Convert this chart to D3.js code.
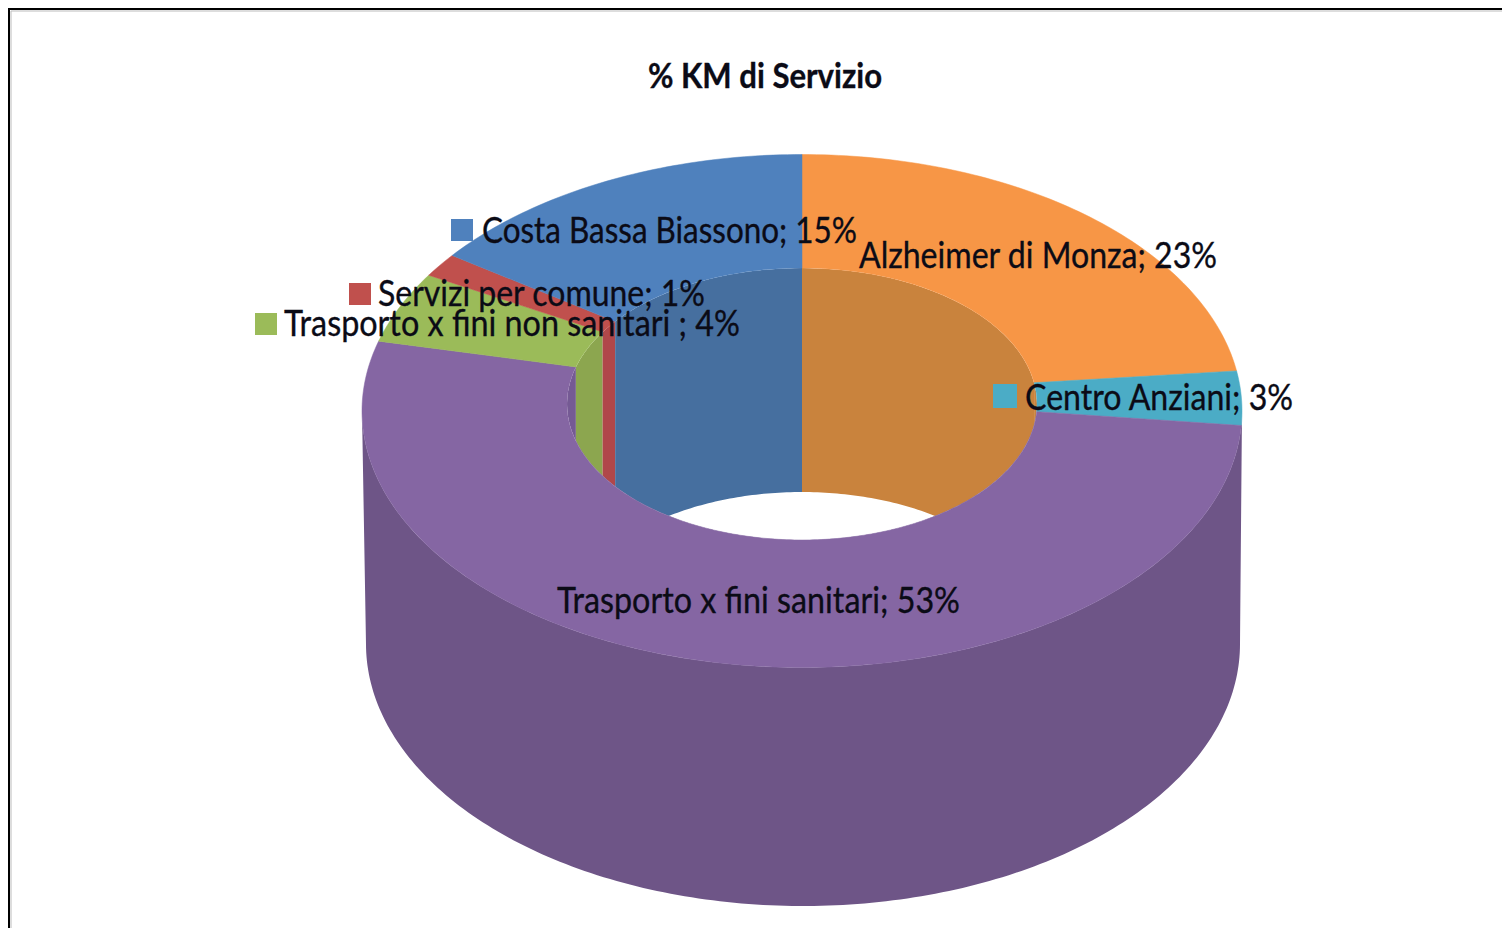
<!DOCTYPE html>
<html>
<head>
<meta charset="utf-8">
<script src="https://cdn.jsdelivr.net/npm/d3@7"></script>
<style>
    html, body { margin: 0; padding: 0; background: #fff; overflow: hidden; }
    text { font-family: Lato, "Noto Sans", sans-serif; fill: #0b0b16; stroke: #0b0b16; stroke-width: 0.35; }
</style>
</head>
<body>
<div id="chart"></div>
<script>
(function () {
    // Data, clockwise from 12 o'clock
    const categories = ["Alzheimer di Monza", "Centro Anziani", "Trasporto x fini sanitari", "Trasporto x fini non sanitari ", "Servizi per comune", "Costa Bassa Biassono"];
    const values = [22.5, 3.4, 53.49, 4.49, 1.49, 14.63];
    const title = "% KM di Servizio";

    // Colours
    const topColors = ["#f79646", "#4bacc6", "#8566a3", "#9bbb59", "#c0504d", "#4f81bd"];
    const wallColors = ["#c9833d", "#c9833d", "#755a94", "#8ca64f", "#b0474a", "#466f9f"];
    const outerWall = "#6e5587";

    // Label layout, same order as categories: x, baseline, width, has legend key
    const labelX = [859, 1025, 557, 284, 378, 482];
    const labelY = [268, 410, 613, 336, 306, 243];
    const labelW = [358, 268, 403, 456, 327, 375];
    const keyBox = [null, [993, 384, 24], null, [255, 313, 22], [349, 283, 22], [451, 219, 22]];

    const width = 1502;
    const height = 928;

    // Ellipses of the donut on screen
    const outer = { cx: 802, cy: 411, rx: 440, ry: 256.5 };
    const inner = { cx: 802, cy: 404, rx: 235, ry: 136 };
    const bottom = { cx: 803, cy: 644, rx: 437, ry: 262 };
    const holeDepth = 224;

    const svg = d3.select("#chart")
        .append("svg")
        .attr("width", width)
        .attr("height", height)
        .attr("viewBox", [0, 0, width, height]);

    // Frame (only top and left show in the picture)
    svg.append("path")
        .attr("d", `M9,${height} V9 H${width}`)
        .attr("fill", "none")
        .attr("stroke", "#000")
        .attr("stroke-width", 2);
    svg.append("path")
        .attr("d", `M11,${height} V11 H${width}`)
        .attr("fill", "none")
        .attr("stroke", "#bbb")
        .attr("stroke-width", 1);

    const pie = d3.pie().sort(null).value(d => d);
    const arcs = pie(values);

    const line = d3.line();
    const pt = (e, a, dy = 0) => [e.cx + e.rx * Math.sin(a), e.cy - e.ry * Math.cos(a) + dy];
    const sweep = (e, a0, a1, dy = 0) => {
        const n = Math.max(2, Math.ceil(Math.abs(a1 - a0) * 60));
        return d3.range(n + 1).map(i => pt(e, a0 + (a1 - a0) * i / n, dy));
    };

    // Outer wall: front half of the top rim down to the front half of the bottom ellipse
    const wallPts = sweep(outer, Math.PI / 2, Math.PI * 1.5)
        .concat(sweep(bottom, Math.PI * 1.5, Math.PI / 2));
    svg.append("path")
        .attr("d", line(wallPts) + "Z")
        .attr("fill", outerWall);

    // Inner walls, only seen through the hole
    svg.append("clipPath")
        .attr("id", "hole")
        .append("ellipse")
        .attr("cx", inner.cx)
        .attr("cy", inner.cy)
        .attr("rx", inner.rx)
        .attr("ry", inner.ry);

    svg.append("g")
        .attr("clip-path", "url(#hole)")
        .selectAll("path")
        .data(arcs)
        .enter()
        .append("path")
        .attr("d", d => line(sweep(inner, d.startAngle, d.endAngle)
            .concat(sweep(inner, d.endAngle, d.startAngle, holeDepth))) + "Z")
        .attr("fill", (d, i) => wallColors[i]);

    // Top face
    svg.append("g")
        .selectAll("path")
        .data(arcs)
        .enter()
        .append("path")
        .attr("d", d => line(sweep(outer, d.startAngle, d.endAngle)
            .concat(sweep(inner, d.endAngle, d.startAngle))) + "Z")
        .attr("fill", (d, i) => topColors[i])
        .attr("stroke", (d, i) => topColors[i])
        .attr("stroke-width", 0.5);

    // Title
    svg.append("text")
        .attr("x", 648)
        .attr("y", 88)
        .attr("textLength", 234)
        .attr("lengthAdjust", "spacingAndGlyphs")
        .style("font-size", "35px")
        .style("font-weight", "bold")
        .text(title);

    // Legend keys
    svg.append("g")
        .selectAll("rect")
        .data(arcs.filter((d, i) => keyBox[i]))
        .enter()
        .append("rect")
        .attr("x", d => keyBox[d.index][0])
        .attr("y", d => keyBox[d.index][1])
        .attr("width", d => keyBox[d.index][2])
        .attr("height", d => keyBox[d.index][2])
        .attr("fill", d => topColors[d.index]);

    // Data labels
    svg.append("g")
        .selectAll("text")
        .data(categories)
        .enter()
        .append("text")
        .attr("x", (d, i) => labelX[i])
        .attr("y", (d, i) => labelY[i])
        .attr("textLength", (d, i) => labelW[i])
        .attr("lengthAdjust", "spacingAndGlyphs")
        .style("white-space", "pre")
        .style("font-size", "37px")
        .text((d, i) => `${d}; ${Math.round(values[i])}%`);
})();
</script>
</body>
</html>
